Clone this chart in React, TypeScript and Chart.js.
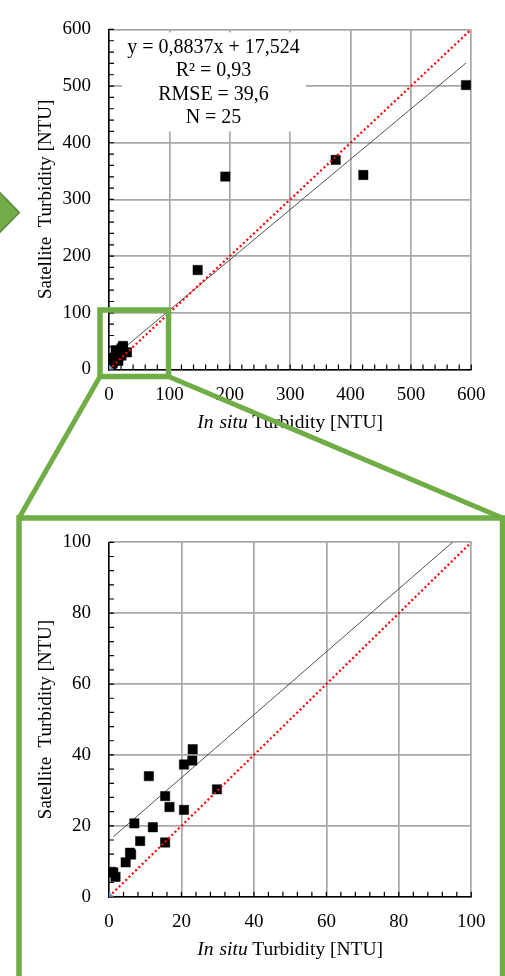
import React, { useEffect, useRef } from 'react';
import { Chart, registerables } from 'chart.js';

Chart.register(...registerables);

// ---- data ----
const insituTurbidity = [0.8, 1.2, 1.8, 4.6, 5.8, 6.1, 7.0, 8.6, 11.0, 12.1, 15.5, 15.5, 16.7, 20.7, 20.7, 23.0, 23.1, 29.8, 146.8, 192.6, 375.4, 421.2, 591.2];
const satelliteTurbidity = [7.0, 6.8, 5.6, 9.7, 12.4, 11.9, 20.7, 15.7, 34.0, 19.6, 28.4, 15.3, 25.3, 37.3, 24.5, 38.4, 41.6, 30.3, 175.5, 340.4, 369.7, 343.2, 501.8];
const trendX = [1.2, 591.2];
const trendY = [16.9, 540.7];
const oneToOneX = [0, 600];
const oneToOneY = [0, 600];
const originX = [0];
const originY = [0];
const statsLines = ['y = 0,8837x + 17,524', 'R\u00B2 = 0,93', 'RMSE = 39,6', 'N = 25'];
const xTitleItalicWords = ['In', 'situ'];
const xTitleRest = 'Turbidity [NTU]';
const yTitle = 'Satellite  Turbidity [NTU]';

const SERIF = '"Liberation Serif", "Times New Roman", serif';

const toPts = (xs: number[], ys: number[]) => xs.map((x, i) => ({ x, y: ys[i] }));

type PanelProps = {
  top: number;
  height: number;
  padTop: number;
  xAxisHeight: number;
  axisMax: number;
  majorStep: number;
  minorStep: number;
  showStats: boolean;
};

function ScatterPanel(p: PanelProps) {
  const ref = useRef<HTMLCanvasElement>(null);
  useEffect(() => {
    const decor = {
      id: 'decor',
      beforeDatasetsDraw(chart: any) {
        const { ctx, chartArea: a, scales } = chart;
        ctx.save();
        if (p.showStats) {
          ctx.fillStyle = '#ffffff';
          ctx.fillRect(a.left + 13, a.top + 3, 184, 99);
          ctx.fillStyle = '#000';
          ctx.font = `20px ${SERIF}`;
          ctx.textAlign = 'center';
          ctx.textBaseline = 'middle';
          statsLines.forEach((l, i) => ctx.fillText(l, a.left + 104.5, a.top + 18.3 + i * 23.35));
        }
        // inner minor ticks
        ctx.strokeStyle = '#000';
        ctx.lineWidth = 1.2;
        ctx.beginPath();
        for (let v = 0; v <= p.axisMax + 1e-9; v += p.minorStep) {
          const yp = scales.y.getPixelForValue(v);
          ctx.moveTo(a.left, yp);
          ctx.lineTo(a.left + 5, yp);
          const xp = scales.x.getPixelForValue(v);
          ctx.moveTo(xp, a.bottom);
          ctx.lineTo(xp, a.bottom - 5);
        }
        ctx.stroke();
        ctx.restore();
      },
      afterDraw(chart: any) {
        const { ctx, chartArea: a } = chart;
        ctx.save();
        ctx.fillStyle = '#000';
        ctx.textBaseline = 'middle';
        ctx.textAlign = 'left';
        // x title (mixed italic)
        const italicFont = `italic 19.5px ${SERIF}`;
        const regFont = `19.5px ${SERIF}`;
        ctx.font = italicFont;
        const w0 = ctx.measureText(xTitleItalicWords[0]).width;
        const w1 = ctx.measureText(xTitleItalicWords[1]).width;
        ctx.font = regFont;
        const wR = ctx.measureText(xTitleRest).width;
        const gap0 = 6;
        const gap1 = 4.5;
        const total = w0 + gap0 + w1 + gap1 + wR;
        const cx = (a.left + a.right) / 2;
        const cy = a.bottom + 53.2;
        const sx = cx - total / 2;
        ctx.font = italicFont;
        ctx.fillText(xTitleItalicWords[0], sx, cy);
        ctx.fillText(xTitleItalicWords[1], sx + w0 + gap0, cy);
        ctx.font = regFont;
        ctx.fillText(xTitleRest, sx + w0 + gap0 + w1 + gap1, cy);
        // y title
        ctx.font = `19px ${SERIF}`;
        ctx.translate(46, (a.top + a.bottom) / 2);
        ctx.rotate(-Math.PI / 2);
        ctx.textAlign = 'center';
        ctx.fillText(yTitle, 0, 0);
        ctx.restore();
      },
    };

    const scaleCommon = {
      type: 'linear' as const,
      min: 0,
      max: p.axisMax,
      grid: { color: '#a8a8a8', lineWidth: 1.7, drawTicks: false },
      border: { display: true, color: '#000', width: 1.5 },
      ticks: {
        stepSize: p.majorStep,
        color: '#000',
        font: { family: SERIF, size: 19 },
      },
    };

    const chart = new Chart(ref.current as HTMLCanvasElement, {
      type: 'scatter',
      data: {
        datasets: [
          {
            data: toPts(originX, originY),
            pointStyle: 'rectRot',
            pointRadius: 5,
            backgroundColor: '#5b9bd5',
            borderColor: '#5b9bd5',
            borderWidth: 0,
          },
          {
            data: toPts(oneToOneX, oneToOneY),
            showLine: true,
            pointRadius: 0,
            borderColor: '#ff0000',
            borderWidth: 2.2,
            borderDash: [2, 2.6],
          },
          {
            data: toPts(insituTurbidity, satelliteTurbidity),
            pointStyle: 'rect',
            pointRadius: 6.6,
            backgroundColor: '#000',
            borderColor: '#000',
            borderWidth: 0.5,
          },
          {
            data: toPts(trendX, trendY),
            showLine: true,
            pointRadius: 0,
            borderColor: '#404040',
            borderWidth: 0.9,
          },
        ] as any,
      },
      options: {
        animation: false,
        responsive: false,
        layout: { padding: { left: 0, right: 33.7, top: p.padTop, bottom: 0 } },
        plugins: { legend: { display: false }, tooltip: { enabled: false } },
        scales: {
          x: {
            ...scaleCommon,
            ticks: { ...scaleCommon.ticks, padding: 14, maxRotation: 0 },
            afterFit: (s: any) => {
              s.height = p.xAxisHeight;
            },
          },
          y: {
            ...scaleCommon,
            ticks: { ...scaleCommon.ticks, padding: 18 },
            afterFit: (s: any) => {
              s.width = 109;
            },
          },
        },
      } as any,
      plugins: [decor],
    });
    return () => chart.destroy();
  }, []);
  return (
    <canvas
      ref={ref}
      width={505}
      height={p.height}
      style={{ position: 'absolute', left: 0, top: p.top, width: 505, height: p.height }}
    />
  );
}

export default function App() {
  const green = '#70ad47';
  return (
    <div style={{ position: 'absolute', left: 0, top: 0, width: 505, height: 976, overflow: 'hidden', background: '#fff' }}>
      <ScatterPanel top={0} height={440} padTop={15} xAxisHeight={70.5} axisMax={600} majorStep={100} minorStep={20} showStats={true} />
      <ScatterPanel top={500} height={476} padTop={42.3} xAxisHeight={79.3} axisMax={100} majorStep={20} minorStep={4} showStats={false} />
      <svg width={505} height={976} style={{ position: 'absolute', left: 0, top: 0, pointerEvents: 'none' }}>
        <polygon points="-25,167 19.5,212.5 -25,258" fill={green} stroke="#507e32" strokeWidth={1.2} />
        <rect x={100} y={310} width={68.5} height={66.5} fill="none" stroke={green} strokeWidth={5.5} />
        <line x1={100} y1={376.5} x2={19} y2={518} stroke={green} strokeWidth={5} />
        <line x1={168.5} y1={376.5} x2={502.5} y2={518} stroke={green} strokeWidth={5} />
        <rect x={19} y={518} width={483.5} height={500} fill="none" stroke={green} strokeWidth={5.5} />
      </svg>
    </div>
  );
}
